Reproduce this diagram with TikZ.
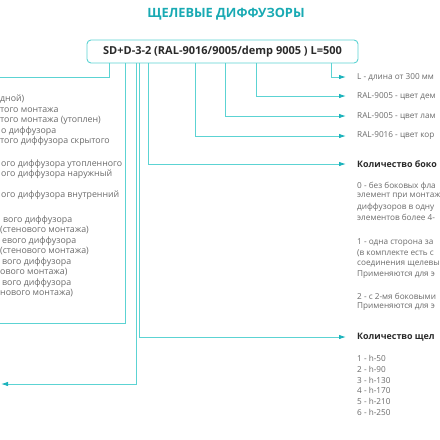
\documentclass[tikz,border=0pt]{standalone}
\usepackage{fontspec}
\setmainfont{Open Sans}
\usetikzlibrary{arrows.meta,calc}
\definecolor{tealL}{HTML}{5CD3D3}
\definecolor{tealD}{HTML}{1CB3BC}
\definecolor{tealH}{HTML}{19AAB3}
\definecolor{txtG}{HTML}{6A6A6A}
\definecolor{txtD}{HTML}{2A2A2A}
\tikzset{
  conn/.style={draw=tealL,line width=0.9pt},
  arr/.style={conn,-{Latex[length=7pt,width=4.5pt,color=tealD]},shorten >=11pt},
  larr/.style={conn,-{Latex[length=7pt,width=4.5pt,color=tealD]}},
  rtxt/.style={anchor=west,inner sep=0pt,font=\fontsize{8.2}{10}\selectfont,text=txtG},
  rhead/.style={anchor=west,inner sep=0pt,font=\fontsize{8.9}{11}\selectfont\bfseries,text=txtD},
  ltxt/.style={anchor=west,inner sep=0pt,font=\fontsize{8.8}{10}\selectfont,text=txtG},
  hdrbox/.style={draw=tealL,line width=0.9pt,rounded corners=4pt,minimum width=271pt,minimum height=23pt,inner sep=0pt,font=\fontsize{11}{13}\selectfont\bfseries,text=txtD},
  title/.style={font=\fontsize{12.8}{15}\selectfont\bfseries,text=tealH,inner sep=0pt}
}
\begin{document}
\begin{tikzpicture}[x=1pt,y=-1pt]
\useasboundingbox (0,0) rectangle (440,440);
\clip (0,0) rectangle (440,440);
\node[title] (ttl) at (226,14) {ЩЕЛЕВЫЕ ДИФФУЗОРЫ};
\node[hdrbox] (hdr) at (222.5,51.5) {SD+D-3-2 (RAL-9016/9005/demp 9005 ) L=500};

% right labels
\node[rtxt] (rL) at (357,77) {L - длина от 300 мм};
\node[rtxt] (rD) at (357,96) {RAL-9005 - цвет дем};
\node[rtxt] (rLam) at (357,116) {RAL-9005 - цвет лам};
\node[rtxt] (rK) at (357,136) {RAL-9016 - цвет кор};
\node[rhead] (hB) at (357,164) {Количество боко};
\node[rtxt] (b1) at (357,186) {0 - без боковых фла};
\node[rtxt] (b2) at (357,196.5) {элемент при монтаж};
\node[rtxt] (b3) at (357,207) {диффузоров в одну};
\node[rtxt] (b4) at (357,217.5) {элементов более 4-};
\node[rtxt] (b5) at (357,243) {1 - одна сторона за};
\node[rtxt] (b6) at (357,253.5) {(в комплекте есть с};
\node[rtxt] (b7) at (357,264) {соединения щелевы};
\node[rtxt] (b8) at (357,274.5) {Применяются для э};
\node[rtxt] (b9) at (357,296) {2 - с 2-мя боковыми};
\node[rtxt] (b10) at (357,306.5) {Применяются для э};
\node[rhead] (hS) at (357,337) {Количество щел};
\node[rtxt] (s1) at (357,358) {1 - h-50};
\node[rtxt] (s2) at (357,369) {2 - h-90};
\node[rtxt] (s3) at (357,380) {3 - h-130};
\node[rtxt] (s4) at (357,390.5) {4 - h-170};
\node[rtxt] (s5) at (357,401) {5 - h-210};
\node[rtxt] (s6) at (357,412) {6 - h-250};

% left text (cut by the frame)
\node[ltxt] (l1) at (0,99) {дной)};
\node[ltxt] (l2) at (0,110) {того монтажа};
\node[ltxt] (l3) at (0,120.5) {того монтажа (утоплен)};
\node[ltxt] (l4) at (1,131) {о диффузора};
\node[ltxt] (l5) at (0,141.5) {того диффузора скрытого};
\node[ltxt] (l6) at (1,164) {ого диффузора утопленного};
\node[ltxt] (l7) at (1,174.5) {ого диффузора наружный};
\node[ltxt] (l8) at (1,195) {ого диффузора внутренний};
\node[ltxt] (l9) at (3,220) {вого диффузора};
\node[ltxt] (l10) at (0,230.5) {(стенового монтажа)};
\node[ltxt] (l11) at (2,241) {евого диффузора};
\node[ltxt] (l12) at (0,251.5) {(стенового монтажа)};
\node[ltxt] (l13) at (2,262) {вого диффузора};
\node[ltxt] (l14) at (0,272.5) {ового монтажа)};
\node[ltxt] (l15) at (2,283) {вого диффузора};
\node[ltxt] (l16) at (0,293.5) {нового монтажа)};

% free ends on the left
\coordinate (eA) at (-5,77);
\coordinate (eB) at (-5,323);
\coordinate (eC) at (1,384);

% connectors
\draw[arr] ([xshift=245pt]hdr.south west) |- (rL.west);
\draw[arr] ([xshift=170pt]hdr.south west) |- (rD.west);
\draw[arr] ([xshift=139pt]hdr.south west) |- (rLam.west);
\draw[arr] ([xshift=109pt]hdr.south west) |- (rK.west);
\draw[arr] ([xshift=62pt]hdr.south west) |- (hB.west);
\draw[arr] ([xshift=52.5pt]hdr.south west) |- (hS.west);
\draw[larr] ([xshift=50pt]hdr.south west) |- (eC);
\draw[conn] ([xshift=39pt]hdr.south west) |- (eB);
\draw[conn] ([xshift=23pt]hdr.south west) |- (eA);
\end{tikzpicture}
\end{document}
